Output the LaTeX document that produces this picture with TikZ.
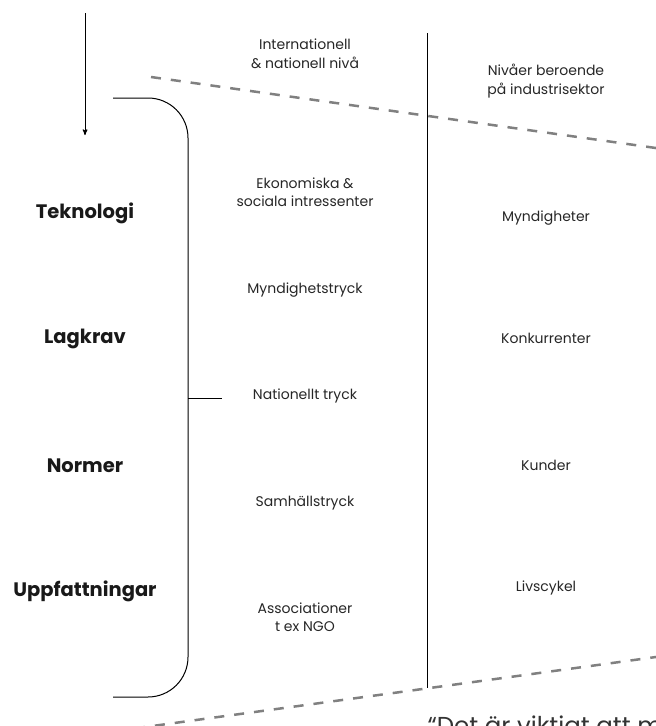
\documentclass[tikz,border=0pt]{standalone}
\usepackage{fontspec}
\setmainfont{Poppins}
\usetikzlibrary{arrows}

\begin{document}
\begin{tikzpicture}[x=1pt, y=-1pt, >=stealth', line width=1pt,
    lvltext/.style={font=\fontsize{14}{18.5}\selectfont, align=center, text=black!85},
    factor/.style={font=\fontsize{19.5}{22}\selectfont\bfseries, text=black!90},
    dashline/.style={dash pattern=on 10pt off 10pt, line width=2.5pt, black!50}]
    \useasboundingbox (0,0) rectangle (656,726);
    \clip (0,0) rectangle (656,726);

    % factors
    \node[factor] (tek) at (85,213) {Teknologi};
    \node[factor] (lag) at (85,339) {Lagkrav};
    \node[factor] (norm) at (85,466) {Normer};
    \node[factor] (uppf) at (85,591) {Uppfattningar};

    % levels
    \node[lvltext] (intl) at (305,54) {Internationell\\\& nationell nivå};
    \node[lvltext] (ekon) at (305,192) {Ekonomiska \&\\sociala intressenter};
    \node[lvltext] (myndtr) at (305,290) {Myndighetstryck};
    \node[lvltext] (nat) at (305,396) {Nationellt tryck};
    \node[lvltext] (samh) at (305,503) {Samhällstryck};
    \node[lvltext] (assoc) at (305,617) {Associationer\\t ex NGO};

    \node[lvltext] (sektor) at (546,81) {Nivåer beroende\\på industrisektor};
    \node[lvltext] (mynd) at (546,218) {Myndigheter};
    \node[lvltext] (konk) at (546,338) {Konkurrenter};
    \node[lvltext] (kund) at (546,465) {Kunder};
    \node[lvltext] (livs) at (546,588) {Livscykel};

    \node[anchor=base west, inner sep=0pt, font=\fontsize{24.5}{28}\selectfont, text=black!80] (citat) at (427,734) {“Det är viktigt att me};

    \coordinate (arrtop) at (85,13);
    \coordinate (arrtip) at (85,135);
    \coordinate (brtop) at (113,98);
    \coordinate (brbot) at (113,697);
    \coordinate (tick) at (188,398);
    \coordinate (tickend) at (222,398);
    \coordinate (divtop) at (427,33);
    \coordinate (divbot) at (427,688);
    \coordinate (dashA) at (151,77);
    \coordinate (dashB) at (680,151.4);
    \coordinate (dashC) at (680,653.7);
    \coordinate (dashD) at (140,727.7);

    \draw[->] (arrtop) -- (arrtip);
    \draw[rounded corners=40pt] (brtop) -- (188,98) -- (188,697) -- (brbot);
    \draw (tick) -- (tickend);
    \draw (divtop) -- (divbot);
    \draw[dashline] (dashA) -- (dashB);
    \draw[dashline] (dashC) -- (dashD);
\end{tikzpicture}
\end{document}
